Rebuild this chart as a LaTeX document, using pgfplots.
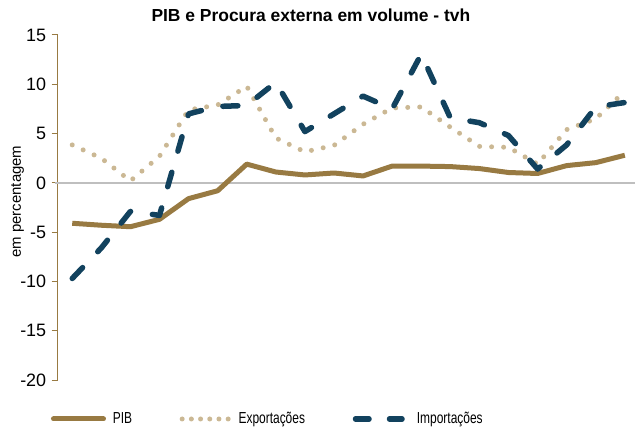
\documentclass[border=0pt]{standalone}
\usepackage{fontspec}
\setmainfont{Liberation Sans}
\newfontfamily\narrowfont{Liberation Sans}[FakeStretch=0.75]
\usepackage{pgfplots}
\pgfplotsset{compat=1.18}
\usetikzlibrary{calc}
\definecolor{pibc}{RGB}{152,122,66}
\definecolor{expc}{RGB}{203,184,148}
\definecolor{impc}{RGB}{18,66,94}
\definecolor{axgray}{RGB}{191,191,191}
\pgfplotsset{
  pibleg/.style={legend image code/.code={\draw[##1, line cap=round] (2.5bp,0bp) -- (52.5bp,0bp); \path (0bp,0bp) (55bp,0bp);}},
  expleg/.style={legend image code/.code={\draw[##1, dash pattern=on 0bp off 9.2bp] (2.5bp,0bp) -- (48.5bp,0bp); \path (0bp,0bp) (52bp,0bp);}},
  impleg/.style={legend image code/.code={\draw[##1, dash pattern=on 13.5bp off 20.5bp] (2.75bp,0bp) -- (49.25bp,0bp); \path (0bp,0bp) (57bp,0bp);}},
}
\begin{document}
\begin{tikzpicture}
\begin{axis}[
  name=ax,
  scale only axis,
  width=577.3bp, height=345bp,
  xmin=-0.5, xmax=19.35,
  ymin=-20, ymax=15,
  axis x line=none,
  axis y line=left,
  y axis line style={-, color=pibc, line width=1bp},
  xtick=\empty,
  ytick={-20,-15,-10,-5,0,5,10,15},
  tick align=outside,
  major tick length=6bp,
  ytick style={color=pibc, line width=1bp},
  /pgf/number format/assume math mode=true,
  yticklabel style={font=\fontsize{18}{20}\selectfont, xshift=-2bp},
  ylabel={em percentagem},
  ylabel style={font=\fontsize{15}{17}\selectfont, at={(axis description cs:-0.0693,0.517)}, anchor=center},
  title={PIB e Procura externa em volume - tvh},
  title style={font=\bfseries\fontsize{17.5}{20}\selectfont, at={(axis description cs:0.4386,1.0386)}, anchor=center},
  clip=false,
  legend columns=3,
  legend style={draw=none, fill=none, inner sep=0pt,
    at={(axis description cs:-0.0163,-0.113)}, anchor=west,
    font=\narrowfont\fontsize{16}{18}\selectfont,
    nodes={inner sep=0pt},
    /tikz/every odd column/.append style={column sep=4.4bp},
    /tikz/every even column/.append style={column sep=45bp}},
]
\draw[axgray, line width=2bp] (axis cs:-0.6,0) -- (axis cs:19.35,0);
\draw[axgray, line width=1.2bp] (axis cs:3.5,0) ++(0,-5.5bp) -- ++(0,10bp);
\draw[axgray, line width=1.2bp] (axis cs:7.5,0) ++(0,-5.5bp) -- ++(0,10bp);
\draw[axgray, line width=1.2bp] (axis cs:11.5,0) ++(0,-5.5bp) -- ++(0,10bp);
\draw[axgray, line width=1.2bp] (axis cs:15.5,0) ++(0,-5.5bp) -- ++(0,10bp);
\addplot[color=pibc, line width=5bp, line join=round, pibleg]
  coordinates {(0,-4.1) (1,-4.3) (2,-4.45) (3,-3.7) (4,-1.6) (5,-0.8) (6,1.9) (7,1.1) (8,0.8) (9,1.0)
  (10,0.7) (11,1.7) (12,1.7) (13,1.65) (14,1.45) (15,1.05) (16,0.95) (17,1.75) (18,2.05) (19,2.8)};
\addlegendentry{PIB}
\addplot[color=expc, line width=5bp, line cap=round, line join=round, dash pattern=on 0bp off 12bp, expleg]
  coordinates {(0,3.85) (1,2.5) (2,0.2) (3,2.7) (4,7.4) (5,7.9) (6,9.8) (7,4.55) (8,3.15) (9,3.8)
  (10,5.95) (11,7.6) (12,7.7) (13,5.65) (14,3.7) (15,3.6) (16,1.9) (17,5.4) (18,6.5) (19,9.3)};
\addlegendentry{Exportações}
\addplot[color=impc, line width=5.5bp, line cap=round, line join=round, dash pattern=on 15bp off 22bp, impleg]
  coordinates {(0,-9.7) (1,-6.6) (2,-2.9) (3,-3.3) (4,7.0) (5,7.75) (6,7.85) (7,10.2) (8,5.2) (9,7.0)
  (10,8.8) (11,7.5) (12,13.05) (13,6.6) (14,6.1) (15,4.8) (16,1.4) (17,3.85) (18,7.7) (19,8.15)};
\addlegendentry{Importações}
\end{axis}
\pgfresetboundingbox
\path[use as bounding box] ($(ax.south west)+(-57.7bp,-47bp)$) rectangle ($(ax.south west)+(577.3bp,380bp)$);
\end{tikzpicture}
\end{document}
